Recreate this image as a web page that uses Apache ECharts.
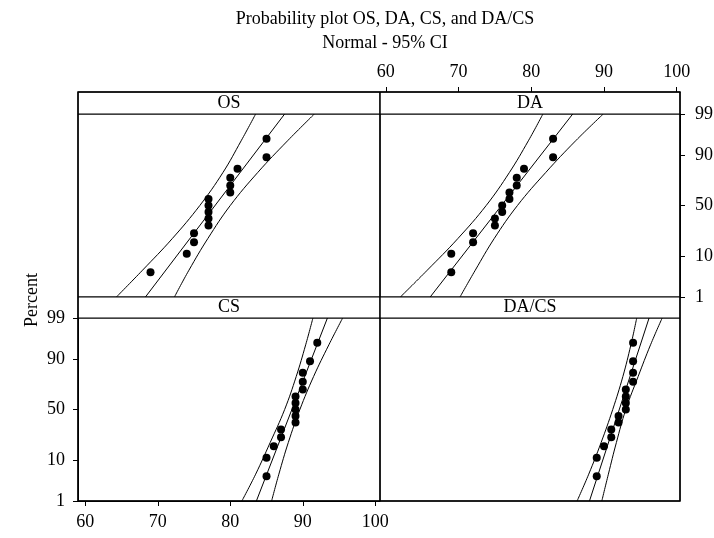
<!DOCTYPE html>
<html>
<head>
<meta charset="utf-8">
<script src="https://cdn.jsdelivr.net/npm/echarts@6/dist/echarts.min.js"></script>
<style>
  html, body { margin: 0; padding: 0; background: #fff; }
  #chart { width: 714px; height: 538px; }
</style>
</head>
<body>
<div id="chart"></div>
<script>
// Probability plot, 4 panels (Minitab style), normal scale with 95% CI

// plotting positions (median ranks, %) for n = 15
const percentRanks = [4.5, 11.0, 17.5, 24.0, 30.5, 37.0, 43.5, 50.0, 56.5, 63.0, 69.5, 76.0, 82.5, 89.0, 95.5];

// sample values per panel (sorted)
const osValues   = [69, 74, 75, 75, 77, 77, 77, 77, 77, 80, 80, 80, 81, 85, 85];
const daValues   = [69, 69, 72, 72, 75, 75, 76, 76, 77, 77, 78, 78, 79, 83, 83];
const csValues   = [85, 85, 86, 87, 87, 89, 89, 89, 89, 89, 90, 90, 90, 91, 92];
const dacsValues = [89, 89, 90, 91, 91, 92, 92, 93, 93, 93, 93, 94, 94, 94, 94];

// fitted line read at 1% and 99%
const fitPercents = [1, 99];
const osFit   = [68.3, 87.5];
const daFit   = [66.1, 85.7];
const csFit   = [83.6, 93.4];
const dacsFit = [88.0, 96.2];

// 95% CI bands read at these percents
const ciPercents = [1, 5, 20, 50, 80, 95, 99];
const osLower   = [64.3, 67.9, 72.0, 75.8, 79.0, 81.5, 83.5];
const osUpper   = [72.3, 74.3, 76.9, 80.0, 83.8, 87.9, 91.6];
const daLower   = [62.0, 65.7, 69.9, 73.8, 77.0, 79.6, 81.6];
const daUpper   = [70.2, 72.3, 74.9, 78.1, 82.0, 86.1, 89.9];
const csLower   = [81.6, 83.5, 85.5, 87.5, 89.1, 90.4, 91.4];
const csUpper   = [85.7, 86.7, 88.0, 89.6, 91.5, 93.6, 95.5];
const dacsLower = [86.3, 87.9, 89.6, 91.2, 92.6, 93.7, 94.5];
const dacsUpper = [89.7, 90.6, 91.7, 93.0, 94.7, 96.4, 98.0];

// axis ticks
const xTicks = [60, 70, 80, 90, 100];
const percentTicks = [1, 10, 50, 90, 99];
const panelNames = ['OS', 'DA', 'CS', 'DA/CS'];

// inverse normal cdf (Acklam) -> probability axis scale
function probit(p) {
  const a = [-3.969683028665376e+01, 2.209460984245205e+02, -2.759285104469687e+02, 1.383577518672690e+02, -3.066479806614716e+01, 2.506628277459239e+00];
  const b = [-5.447609879822406e+01, 1.615858368580409e+02, -1.556989798598866e+02, 6.680131188771972e+01, -1.328068155288572e+01];
  const c = [-7.784894002430293e-03, -3.223964580411365e-01, -2.400758277161838e+00, -2.549671324520981e+00, 4.374664141464968e+00, 2.938163982698783e+00];
  const d = [7.784695709041462e-03, 3.224671290700398e-01, 2.445134137142996e+00, 3.754408661907416e+00];
  const pl = 0.02425;
  let q, r;
  if (p < pl) {
    q = Math.sqrt(-2 * Math.log(p));
    return (((((c[0]*q+c[1])*q+c[2])*q+c[3])*q+c[4])*q+c[5]) / ((((d[0]*q+d[1])*q+d[2])*q+d[3])*q+1);
  }
  if (p <= 1 - pl) {
    q = p - 0.5; r = q * q;
    return (((((a[0]*r+a[1])*r+a[2])*r+a[3])*r+a[4])*r+a[5])*q / (((((b[0]*r+b[1])*r+b[2])*r+b[3])*r+b[4])*r+1);
  }
  q = Math.sqrt(-2 * Math.log(1 - p));
  return -(((((c[0]*q+c[1])*q+c[2])*q+c[3])*q+c[4])*q+c[5]) / ((((d[0]*q+d[1])*q+d[2])*q+d[3])*q+1);
}
const z = (pct) => probit(pct / 100);

const FONT = 'Liberation Serif';
const yMin = z(1), yMax = z(99);
const yTickVals = percentTicks.map(z);
function pctLabel(v) {
  for (let i = 0; i < yTickVals.length; i++) {
    if (Math.abs(yTickVals[i] - v) < 1e-6) return String(percentTicks[i]);
  }
  return '';
}

// layout (px)
const L = 78, MID = 380, R = 680, TOP = 92, STRIP = 22, PH = 183, BOT = 501;
const grids = [
  { left: L,   top: TOP + STRIP,            width: MID - L, height: PH },
  { left: MID, top: TOP + STRIP,            width: R - MID, height: PH },
  { left: L,   top: TOP + STRIP + PH + 21,  width: MID - L, height: PH },
  { left: MID, top: TOP + STRIP + PH + 21,  width: R - MID, height: PH }
];
const xRanges = [[59.0, 100.65], [59.2, 100.45], [59.0, 100.65], [59.2, 100.45]];

const panels = [
  { values: osValues,   fit: osFit,   lower: osLower,   upper: osUpper },
  { values: daValues,   fit: daFit,   lower: daLower,   upper: daUpper },
  { values: csValues,   fit: csFit,   lower: csLower,   upper: csUpper },
  { values: dacsValues, fit: dacsFit, lower: dacsLower, upper: dacsUpper }
];

const labelStyle = { color: '#000', fontSize: 18, fontFamily: FONT };

const xAxes = grids.map((g, i) => {
  const showTop = i === 1, showBottom = i === 2;
  const show = showTop || showBottom;
  return {
    gridIndex: i, type: 'value', min: xRanges[i][0], max: xRanges[i][1],
    position: showTop ? 'top' : 'bottom',
    offset: showTop ? STRIP : 0,
    axisLine: { show: show, onZero: false, lineStyle: { color: '#000', width: 1 } },
    axisTick: { show: show, length: 5, customValues: xTicks, lineStyle: { color: '#000' } },
    axisLabel: Object.assign({ show: show, customValues: xTicks, margin: showTop ? 11 : 12 }, labelStyle),
    splitLine: { show: false }
  };
});

const yAxes = grids.map((g, i) => {
  const showRight = i === 1, showLeft = i === 2;
  const show = showRight || showLeft;
  return {
    gridIndex: i, type: 'value', min: yMin, max: yMax,
    position: showRight ? 'right' : 'left',
    axisLine: { show: show, onZero: false, lineStyle: { color: '#000', width: 1 } },
    axisTick: { show: show, length: 5, customValues: yTickVals, lineStyle: { color: '#000' } },
    axisLabel: Object.assign({ show: show, customValues: yTickVals, formatter: pctLabel, margin: showRight ? 15 : 13 }, labelStyle),
    splitLine: { show: false }
  };
});

const series = [];
panels.forEach((p, i) => {
  const lineBase = {
    type: 'line', xAxisIndex: i, yAxisIndex: i, symbol: 'none', silent: true,
    lineStyle: { color: '#000', width: 1 }, animation: false
  };
  series.push(Object.assign({}, lineBase, {
    data: p.fit.map((v, k) => [v, z(fitPercents[k])])
  }));
  series.push(Object.assign({}, lineBase, { smooth: 0.4,
    data: p.lower.map((v, k) => [v, z(ciPercents[k])])
  }));
  series.push(Object.assign({}, lineBase, { smooth: 0.4,
    data: p.upper.map((v, k) => [v, z(ciPercents[k])])
  }));
  series.push({
    type: 'scatter', xAxisIndex: i, yAxisIndex: i, symbol: 'circle', symbolSize: 8,
    itemStyle: { color: '#000', opacity: 1 }, animation: false,
    data: p.values.map((v, k) => [v, z(percentRanks[k])])
  });
});

// strips with panel names
const graphic = [];
grids.forEach((g, i) => {
  graphic.push({
    type: 'rect', z: 50,
    shape: { x: g.left, y: g.top - (i < 2 ? STRIP : 21), width: g.width, height: i < 2 ? STRIP : 21 },
    style: { fill: '#fff', stroke: '#000', lineWidth: 1 }
  });
  graphic.push({
    type: 'text', z: 51,
    style: {
      text: panelNames[i], x: g.left + g.width / 2, y: g.top - (i < 2 ? STRIP : 21) / 2,
      textAlign: 'center', textVerticalAlign: 'middle',
      font: '18px "' + FONT + '"', fill: '#000'
    }
  });
});
graphic.push({
  type: 'rect', z: 60,
  shape: { x: L, y: TOP, width: R - L, height: BOT - TOP },
  style: { fill: 'none', stroke: '#000', lineWidth: 1.5 }
});
graphic.push({
  type: 'line', z: 60,
  shape: { x1: MID, y1: TOP, x2: MID, y2: BOT },
  style: { stroke: '#000', lineWidth: 1 }
});
graphic.push({
  type: 'text', z: 60, x: 32, y: 300, rotation: Math.PI / 2,
  style: {
    text: 'Percent', x: 0, y: 0, textAlign: 'center', textVerticalAlign: 'middle',
    font: '18px "' + FONT + '"', fill: '#000'
  }
});

const chart = echarts.init(document.getElementById('chart'), null, { renderer: 'canvas' });
chart.setOption({
  backgroundColor: '#fff',
  animation: false,
  title: {
    text: 'Probability plot OS, DA, CS, and DA/CS\nNormal - 95% CI',
    left: 380, top: 2, textAlign: 'center',
    textStyle: { fontSize: 18, fontWeight: 'normal', fontFamily: FONT, color: '#000', lineHeight: 24 }
  },
  grid: grids.map(g => Object.assign({
    show: true, borderColor: '#000', borderWidth: 1, backgroundColor: 'transparent',
    containLabel: false, outerBoundsMode: 'none'
  }, g)),
  xAxis: xAxes,
  yAxis: yAxes,
  series: series,
  graphic: graphic
});
</script>
</body>
</html>
